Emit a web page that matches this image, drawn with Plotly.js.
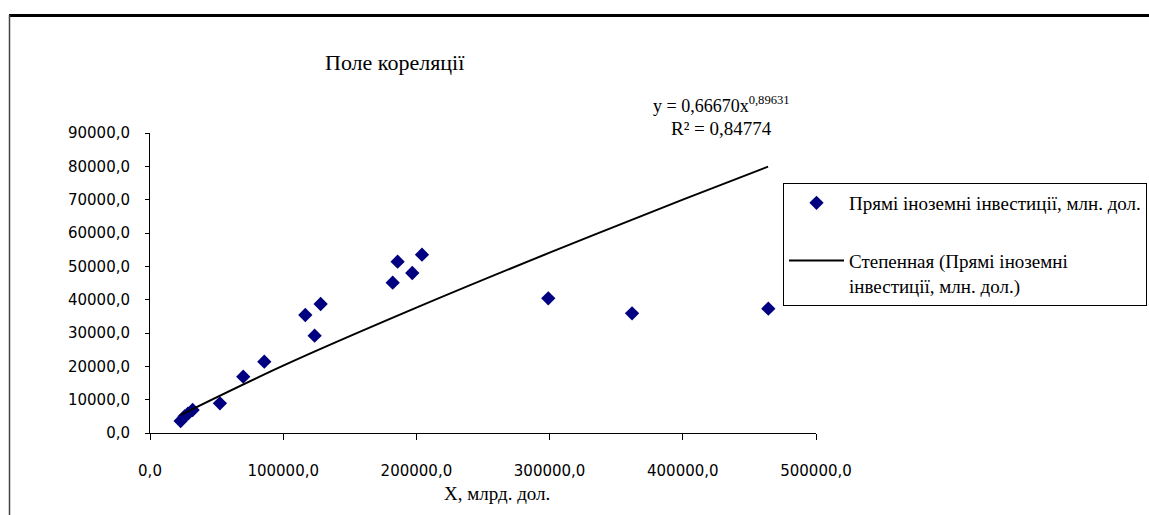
<!DOCTYPE html>
<html>
<head>
<meta charset="utf-8">
<script src="https://cdn.plot.ly/plotly-3.0.1.min.js"></script>
<style>html,body{margin:0;padding:0;background:#fff;}#chart{width:1149px;height:515px;}</style>
</head>
<body>
<div id="chart"></div>
<script>
// Scatter data: X, млрд. дол. vs Прямі іноземні інвестиції, млн. дол.
var xValues = [23000, 26000, 28500, 32000, 52500, 70000, 85800, 116600, 123600, 128100, 182200, 185900, 196900, 204200, 299000, 361900, 464200];
var yValues = [3600, 5000, 5800, 6900, 8900, 16900, 21400, 35400, 29200, 38700, 45100, 51400, 48000, 53500, 40400, 35900, 37300];
// Power trendline (y = 0,66670x^0,89631)
var trendX = [23000, 100000, 200000, 300000, 400000, 464000];
var trendY = [5400, 20200, 37600, 54100, 70000, 79900];
var xTicks = [0, 100000, 200000, 300000, 400000, 500000];
var yTicks = [0, 10000, 20000, 30000, 40000, 50000, 60000, 70000, 80000, 90000];

var serif = '"Liberation Serif", "Times New Roman", serif';
var sans = '"DejaVu Sans", Verdana, sans-serif';

var traces = [
  {
    x: xValues, y: yValues, type: 'scatter', mode: 'markers',
    name: 'Прямі іноземні інвестиції, млн. дол.',
    legendgroup: 'a',
    marker: {symbol: 'diamond', size: 11, color: '#000080'},
    hoverinfo: 'x+y'
  },
  {
    x: trendX, y: trendY, type: 'scatter', mode: 'lines',
    name: 'Степенная (Прямі іноземні<br>інвестиції, млн. дол.)',
    legendgroup: 'b',
    line: {color: '#000000', width: 2, shape: 'spline'},
    hoverinfo: 'skip'
  }
];

var layout = {
  width: 1149, height: 515,
  margin: {l: 150, r: 333, t: 133, b: 82, autoexpand: false},
  paper_bgcolor: '#ffffff', plot_bgcolor: '#ffffff',
  separators: ', ',
  showlegend: true,
  font: {family: serif, color: '#000000'},
  xaxis: {
    range: [0, 500000], tickvals: xTicks, tickformat: '.1f',
    showgrid: false, zeroline: false,
    showline: true, linecolor: '#000000', linewidth: 1,
    ticks: 'outside', ticklen: 6, tickcolor: '#000000',
    ticklabelstandoff: 18,
    tickfont: {family: sans, size: 15, color: '#000000'}
  },
  yaxis: {
    range: [0, 90000], tickvals: yTicks, tickformat: '.1f',
    showgrid: false, zeroline: false,
    showline: true, linecolor: '#000000', linewidth: 1,
    ticks: 'outside', ticklen: 4, tickcolor: '#000000',
    ticklabelstandoff: 12,
    tickfont: {family: sans, size: 15, color: '#000000'}
  },
  legend: {
    x: (783 - 150) / 666, xanchor: 'left', y: (433 - 183) / 300, yanchor: 'top',
    bordercolor: '#000000', borderwidth: 1, bgcolor: '#ffffff',
    font: {family: serif, size: 19, color: '#000000'},
    traceorder: 'grouped', tracegroupgap: 30, valign: 'top',
    itemwidth: 55
  },
  annotations: [
    {xref: 'paper', yref: 'paper', x: (395 - 150) / 666, y: (433 - 62) / 300,
     text: 'Поле кореляції', showarrow: false, xanchor: 'center', yanchor: 'middle',
     font: {family: serif, size: 22, color: '#000000'}},
    {xref: 'paper', yref: 'paper', x: (721 - 150) / 666, y: (433 - 104) / 300,
     text: 'y = 0,66670x<sup>0,89631</sup>', showarrow: false, xanchor: 'center', yanchor: 'middle',
     font: {family: serif, size: 18, color: '#000000'}},
    {xref: 'paper', yref: 'paper', x: (721 - 150) / 666, y: (433 - 129) / 300,
     text: 'R² = 0,84774', showarrow: false, xanchor: 'center', yanchor: 'middle',
     font: {family: serif, size: 19, color: '#000000'}},
    {xref: 'paper', yref: 'paper', x: (497 - 150) / 666, y: (433 - 493) / 300,
     text: 'X, млрд. дол.', showarrow: false, xanchor: 'center', yanchor: 'middle',
     font: {family: serif, size: 19, color: '#000000'}}
  ],
  shapes: [
    {type: 'line', xref: 'paper', yref: 'paper',
     x0: (9 - 150) / 666, x1: (1160 - 150) / 666, y0: (433 - 15.5) / 300, y1: (433 - 15.5) / 300,
     line: {color: '#000000', width: 3}},
    {type: 'line', xref: 'paper', yref: 'paper',
     x0: (9.5 - 150) / 666, x1: (9.5 - 150) / 666, y0: (433 - 15) / 300, y1: (433 - 520) / 300,
     line: {color: '#444444', width: 1.5}}
  ]
};

Plotly.newPlot('chart', traces, layout, {displayModeBar: false, staticPlot: true});
</script>
</body>
</html>
